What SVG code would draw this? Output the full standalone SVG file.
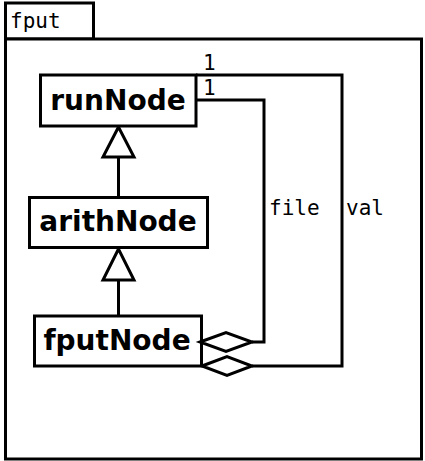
<svg xmlns="http://www.w3.org/2000/svg" width="425" height="461" viewBox="0 0 425 461">
<style>
.ln{fill:none;stroke:#000;stroke-width:3}
.box{fill:#fff;stroke:#000;stroke-width:3}
.nm{font-family:"DejaVu Sans",sans-serif;font-weight:bold;font-size:28px;text-anchor:middle}
.mono{font-family:"DejaVu Sans Mono",monospace;font-size:21px}
.dia{fill:#fff;stroke:#000;stroke-width:3}
</style>
<rect width="425" height="461" fill="#fff"/>
<g id="frame">
<rect x="5.5" y="3" width="88" height="36" class="box"/>
<rect x="5.5" y="39" width="416" height="420" class="box"/>
<text x="10" y="28" class="mono">fput</text>
</g>
<g id="connectors">
<line x1="118.5" y1="157" x2="118.5" y2="197" class="ln"/>
<polygon points="118.5,127 103,157 134,157" class="dia"/>
<line x1="118.5" y1="280" x2="118.5" y2="316" class="ln"/>
<polygon points="118.5,249 103,280 134,280" class="dia"/>
<polyline points="196,100 264,100 264,342 252,342" class="ln"/>
<polyline points="196,75 342,75 342,366 252,366" class="ln"/>
<text x="203" y="70" class="mono">1</text>
<text x="203" y="95" class="mono">1</text>
<text x="269" y="215" class="mono">file</text>
<text x="346" y="215" class="mono">val</text>
</g>
<g id="runNode">
<rect x="40.5" y="75" width="155.5" height="51" class="box"/>
<text x="118" y="110" class="nm">runNode</text>
</g>
<g id="arithNode">
<rect x="29.5" y="197.5" width="178" height="50" class="box"/>
<text x="118" y="231" class="nm">arithNode</text>
</g>
<g id="fputNode">
<rect x="34.5" y="316" width="167" height="50" class="box"/>
<text x="117" y="350" class="nm">fputNode</text>
</g>
<g id="diamonds">
<polygon points="200,342 226,332.5 252,342 226,351.5" class="dia"/>
<polygon points="202,366 227,356.5 252,366 227,375.5" class="dia"/>
</g>
</svg>
